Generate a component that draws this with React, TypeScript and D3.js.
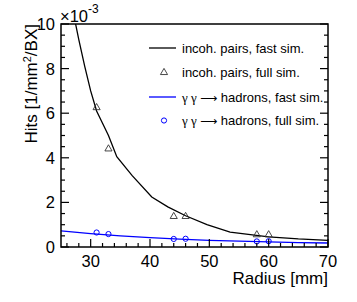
import React, { useEffect, useRef } from "react";
import * as d3 from "d3";

// incoherent pairs, fast simulation (hits x 1e-3)
const pairsFastR = [26, 27, 28, 29, 30, 31, 32, 33, 34.4, 37, 40.3, 43, 46, 49.6, 53.5, 60, 65, 70];
const pairsFastV = [12.2, 10.6, 9.3, 8.1, 7.0, 6.1, 5.55, 5.0, 4.05, 3.2, 2.24, 1.8, 1.4, 1.0, 0.67, 0.45, 0.36, 0.3];

// incoherent pairs, full simulation
const pairsFullR = [31, 33, 44, 46, 58, 60];
const pairsFullV = [6.25, 4.4, 1.37, 1.37, 0.55, 0.55];

// gamma gamma -> hadrons, fast simulation
const hadFastR = [25, 30, 35, 40, 45, 50, 55, 60, 65, 70];
const hadFastV = [0.72, 0.6, 0.5, 0.42, 0.35, 0.3, 0.26, 0.23, 0.2, 0.18];

// gamma gamma -> hadrons, full simulation
const hadFullR = [31, 33, 44, 46, 58, 60];
const hadFullV = [0.65, 0.58, 0.36, 0.37, 0.25, 0.26];

const xTicks = [30, 40, 50, 60, 70];
const yTicks = [0, 2, 4, 6, 8, 10];

const legendLabels = [
  "incoh. pairs, fast sim.",
  "incoh. pairs, full sim.",
  "hadrons, fast sim.",
  "hadrons, full sim.",
];

const width = 357;
const height = 302;
const margin = { top: 24, right: 29, bottom: 55, left: 61 };
const font = "'Liberation Sans', Arial, Helvetica, sans-serif";
const serif = "'Liberation Serif', 'Times New Roman', serif";

export default function App() {
  const ref = useRef<SVGSVGElement>(null);

  useEffect(() => {
    const svg = d3.select(ref.current);
    svg.selectAll("*").remove();

    const x = d3.scaleLinear().domain([25, 70]).range([margin.left, width - margin.right]);
    const y = d3.scaleLinear().domain([0, 10]).range([height - margin.bottom, margin.top]);
    const x0 = margin.left, x1 = width - margin.right;
    const y0 = height - margin.bottom, y1 = margin.top;

    svg.append("defs").append("clipPath").attr("id", "plotclip")
      .append("rect").attr("x", x0).attr("y", y1).attr("width", x1 - x0).attr("height", y0 - y1);

    const plot = svg.append("g").attr("clip-path", "url(#plotclip)");

    const line = d3.line<[number, number]>().x((d) => x(d[0])).y((d) => y(d[1]));

    plot.append("path")
      .attr("d", line(pairsFastR.map((r, i) => [r, pairsFastV[i]])))
      .attr("fill", "none").attr("stroke", "#000").attr("stroke-width", 1.3);

    plot.append("path")
      .attr("d", line(hadFastR.map((r, i) => [r, hadFastV[i]])))
      .attr("fill", "none").attr("stroke", "#0000ff").attr("stroke-width", 1.3);

    const tri = d3.symbol(d3.symbolTriangle, 22);
    plot.selectAll(".tri").data(pairsFullR).join("path")
      .attr("class", "tri")
      .attr("d", tri())
      .attr("transform", (d, i) => `translate(${x(d)},${y(pairsFullV[i])})`)
      .attr("fill", "none").attr("stroke", "#333").attr("stroke-width", 0.9);

    plot.selectAll(".circ").data(hadFullR).join("circle")
      .attr("class", "circ")
      .attr("cx", (d) => x(d)).attr("cy", (d, i) => y(hadFullV[i]))
      .attr("r", 2.6)
      .attr("fill", "none").attr("stroke", "#0000ff").attr("stroke-width", 1);

    // frame
    svg.append("rect").attr("x", x0).attr("y", y1).attr("width", x1 - x0).attr("height", y0 - y1)
      .attr("fill", "none").attr("stroke", "#000").attr("stroke-width", 1.5);

    const ticks = svg.append("g").attr("stroke", "#000").attr("stroke-width", 1.2);
    // x ticks (bottom only)
    d3.range(26, 71, 2).forEach((v) => {
      const len = v % 10 === 0 ? 8 : 4;
      ticks.append("line").attr("x1", x(v)).attr("x2", x(v)).attr("y1", y0).attr("y2", y0 - len);
    });
    // y ticks (left and right)
    d3.range(0, 10.01, 0.5).forEach((v) => {
      const len = Math.abs(v % 2) < 1e-6 ? 8 : 4;
      ticks.append("line").attr("x1", x0).attr("x2", x0 + len).attr("y1", y(v)).attr("y2", y(v));
      ticks.append("line").attr("x1", x1).attr("x2", x1 - len).attr("y1", y(v)).attr("y2", y(v));
    });

    const labels = svg.append("g").attr("font-family", font).attr("fill", "#000");
    labels.selectAll(".xl").data(xTicks).join("text")
      .attr("class", "xl")
      .attr("x", (d) => x(d)).attr("y", y0 + 20)
      .attr("text-anchor", "middle").attr("font-size", 16.5)
      .text((d) => d);
    labels.selectAll(".yl").data(yTicks).join("text")
      .attr("class", "yl")
      .attr("x", x0 - 6).attr("y", (d) => y(d) + 6)
      .attr("text-anchor", "end").attr("font-size", 16.5)
      .text((d) => d);

    labels.append("text")
      .attr("x", x1).attr("y", 284)
      .attr("text-anchor", "end").attr("font-size", 17)
      .text("Radius [mm]");

    const yt = labels.append("text")
      .attr("transform", `translate(37,${y1}) rotate(-90)`)
      .attr("text-anchor", "end").attr("font-size", 17);
    yt.append("tspan").text("Hits [1/mm");
    yt.append("tspan").attr("dy", -6).attr("font-size", 11).text("2");
    yt.append("tspan").attr("dy", 6).text("/BX]");

    const ex = labels.append("text").attr("x", x0 - 1).attr("y", 22).attr("font-size", 16.5);
    ex.append("tspan").text("\u00d710");
    ex.append("tspan").attr("dy", -9).attr("font-size", 12).text("-3");

    // legend
    const lg = svg.append("g").attr("font-family", font).attr("font-size", 13);
    const rows = [48, 72.5, 97, 120.5];
    lg.append("line").attr("x1", 149).attr("x2", 176).attr("y1", rows[0]).attr("y2", rows[0])
      .attr("stroke", "#000").attr("stroke-width", 1.3);
    lg.append("path").attr("d", tri()).attr("transform", `translate(164,${rows[1]})`)
      .attr("fill", "none").attr("stroke", "#333").attr("stroke-width", 0.9);
    lg.append("line").attr("x1", 149).attr("x2", 176).attr("y1", rows[2]).attr("y2", rows[2])
      .attr("stroke", "#0000ff").attr("stroke-width", 1.3);
    lg.append("circle").attr("cx", 164).attr("cy", rows[3]).attr("r", 2.6)
      .attr("fill", "none").attr("stroke", "#0000ff").attr("stroke-width", 1);
    legendLabels.forEach((t, i) => {
      const tx = lg.append("text").attr("x", 182).attr("y", rows[i] + 4.5);
      if (i >= 2) {
        tx.append("tspan").attr("font-family", serif).text("\u03b3 \u03b3 ");
        tx.append("tspan").attr("font-family", "'DejaVu Sans', sans-serif").attr("font-size", 12).text("\u27f6");
        tx.append("tspan").text(" " + t);
      } else {
        tx.text(t);
      }
    });
  }, []);

  return (
    <svg
      ref={ref}
      width={width}
      height={height}
      style={{ position: "absolute", left: 0, top: 0, background: "#fff" }}
    />
  );
}
